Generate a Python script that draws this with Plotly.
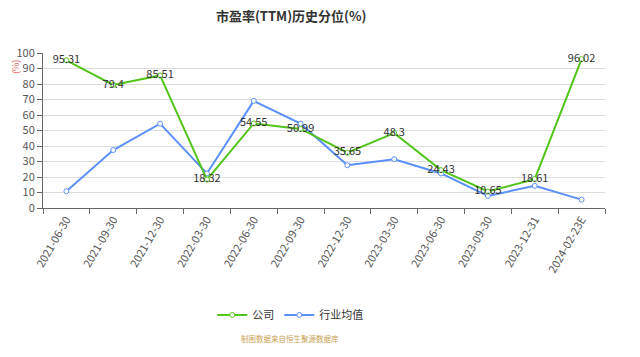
import plotly.graph_objects as go

categories = ["2021-06-30", "2021-09-30", "2021-12-30", "2022-03-30", "2022-06-30", "2022-09-30",
              "2022-12-30", "2023-03-30", "2023-06-30", "2023-09-30", "2023-12-31", "2024-02-23E"]
company = [95.31, 79.4, 85.51, 18.32, 54.55, 50.99, 35.65, 48.3, 24.43, 10.65, 18.61, 96.02]
industry = [10.8, 37.4, 54.4, 22.3, 69.1, 54.4, 27.6, 31.5, 22.3, 7.8, 14.3, 5.4]
y_ticks = [0, 10, 20, 30, 40, 50, 60, 70, 80, 90, 100]

font_family = "Noto Sans CJK SC, Microsoft YaHei, sans-serif"

fig = go.Figure()
fig.add_trace(go.Scatter(
    x=categories, y=industry, name="行业均值", mode="lines+markers",
    line=dict(color="#5b8ff9", width=2),
    marker=dict(symbol="circle", size=5, color="white", line=dict(color="#5b8ff9", width=1)),
    cliponaxis=False,
))
fig.add_trace(go.Scatter(
    x=categories, y=company, name="公司", mode="lines+markers+text",
    line=dict(color="#52c41a", width=2),
    marker=dict(symbol="circle", size=5, color="white", line=dict(color="#52c41a", width=1)),
    text=[str(v) for v in company], textposition="middle center",
    textfont=dict(size=11, color="#333333", family=font_family),
    cliponaxis=False,
))

fig.update_layout(
    width=640, height=357,
    margin=dict(l=43, r=35, t=53, b=149, autoexpand=False),
    paper_bgcolor="white", plot_bgcolor="white",
    font=dict(family=font_family, size=11, color="#666666"),
    title=dict(text="<b>市盈率(TTM)历史分位(%)</b>", x=0.455, xanchor="center", y=0.955, yanchor="middle",
               font=dict(size=13, color="#333333")),
    showlegend=True,
    legend=dict(orientation="h", x=0.44, xanchor="center", y=-0.69, yanchor="middle",
                font=dict(size=11, color="#333333"), traceorder="reversed", itemwidth=30),
    xaxis=dict(type="category", range=[-0.5, 11.5], tickangle=-60, tickson="boundaries",
               ticks="outside", ticklen=5, tickcolor="#666666", showline=True, linecolor="#666666",
               showgrid=False, tickfont=dict(size=11, color="#555555"), automargin=False),
    yaxis=dict(range=[0, 100], tickvals=y_ticks, ticks="outside", ticklen=5, tickcolor="#666666",
               showline=True, linecolor="#666666", gridcolor="#dddddd", zeroline=False,
               tickfont=dict(size=11, color="#555555"), automargin=False),
    annotations=[
        dict(text="(%)", x=-0.048, y=0.91, xref="paper", yref="paper", showarrow=False, textangle=-90,
             xanchor="center", yanchor="middle", font=dict(size=9, color="#e06666")),
        dict(text="制图数据来自恒生聚源数据库", x=0.44, y=-0.839, xref="paper", yref="paper", showarrow=False,
             xanchor="center", yanchor="middle", font=dict(size=7.5, color="#c8a050")),
    ],
)

fig.write_html("out.html", config={"displayModeBar": False},
               post_script="document.body.style.margin='0';document.body.style.overflow='hidden';")
